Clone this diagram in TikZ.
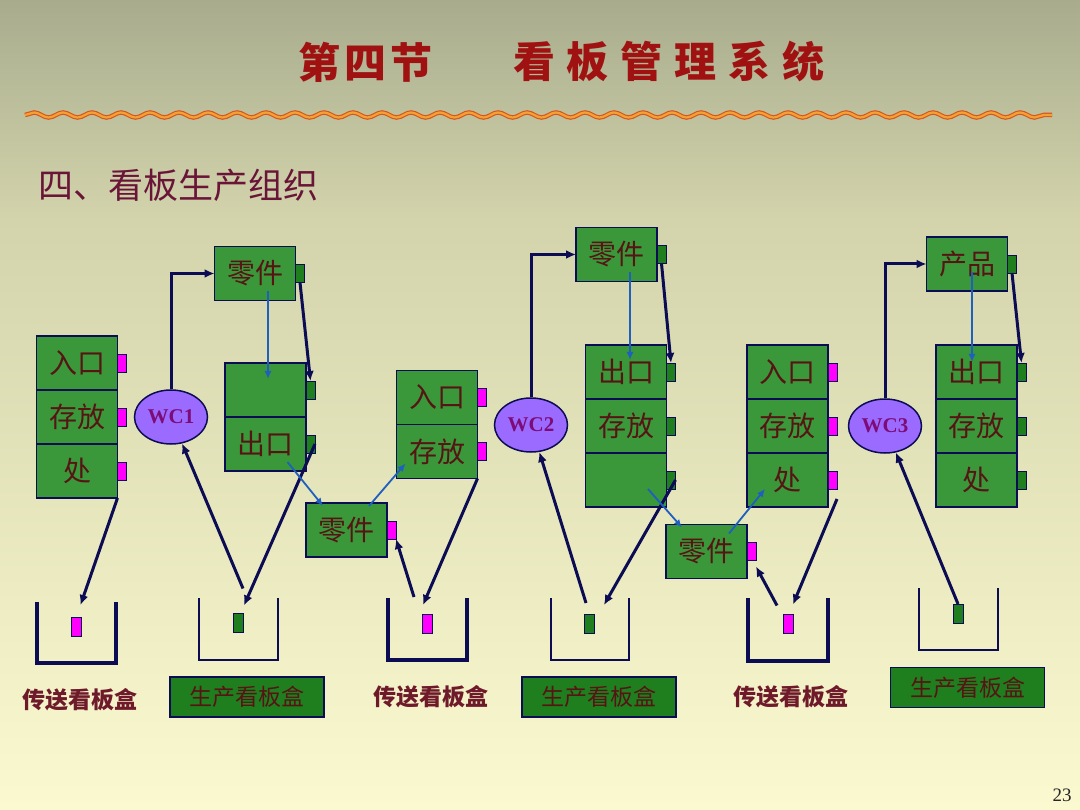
\documentclass[tikz,border=0pt]{standalone}
\usepackage{fontspec}
\setmainfont{Noto Sans CJK SC}
\newfontfamily\wcfont{Liberation Serif}
\usetikzlibrary{arrows.meta,shapes.geometric,positioning,calc,decorations.pathmorphing}

\definecolor{bgtop}{HTML}{A8AC8D}
\definecolor{bgupper}{HTML}{D3D4AC}
\definecolor{bgmid}{HTML}{EAE9C0}
\definecolor{bgbot}{HTML}{FBF9CF}
\definecolor{kbnavy}{HTML}{0C0C55}
\definecolor{cellgreen}{HTML}{3A983A}
\definecolor{darkgreen}{HTML}{1F7F1F}
\definecolor{pinktab}{HTML}{FF00FF}
\definecolor{wcpurple}{HTML}{9B6BFF}
\definecolor{wctext}{HTML}{7E0C78}
\definecolor{textbrown}{HTML}{561414}
\definecolor{labelred}{HTML}{6E1A2A}
\definecolor{subred}{HTML}{6A1538}
\definecolor{titlered}{HTML}{A01212}
\definecolor{infoblue}{HTML}{1E5FC0}
\definecolor{waveorange}{HTML}{F5A035}
\definecolor{wavered}{HTML}{D4561E}

\begin{document}
\begin{tikzpicture}[
        x=1pt, y=-1pt,
        cell/.style={rectangle, draw=kbnavy, line width=1.3pt, fill=cellgreen, minimum width=81pt,
            minimum height=54pt, inner sep=0pt, outer sep=0pt, text=textbrown, font=\fontsize{28}{30}\selectfont},
        ptab/.style={rectangle, draw=kbnavy, line width=0.8pt, fill=pinktab, minimum width=9pt,
            minimum height=18pt, inner sep=0pt, outer sep=0pt},
        gtab/.style={ptab, fill=darkgreen},
        wc/.style={ellipse, draw=kbnavy, line width=1.5pt, fill=wcpurple, minimum width=73pt, minimum height=54pt,
            inner sep=0pt, text=wctext, font=\wcfont\bfseries\fontsize{21}{23}\selectfont},
        kb/.style={draw=kbnavy, line width=3pt, -{Latex[length=10pt,width=9pt]}},
        info/.style={draw=infoblue, line width=1.8pt, -{Latex[length=8pt,width=7pt]}},
        thickbin/.style={draw=kbnavy, line width=3.5pt},
        thinbin/.style={draw=kbnavy, line width=1.3pt},
        carrier/.style={font=\bfseries\fontsize{23}{25}\selectfont, text=labelred},
        prodbox/.style={rectangle, draw=kbnavy, line width=1.5pt, fill=darkgreen, minimum width=154pt,
            minimum height=40pt, inner sep=0pt, text=textbrown, font=\fontsize{23}{25}\selectfont}
    ]

    % Background and heading
    \shade[top color=bgtop, bottom color=bgupper] (0,0) rectangle (1080,220);
    \shade[top color=bgupper, middle color=bgmid, bottom color=bgbot] (0,219.5) rectangle (1080,810);
    \useasboundingbox (0,0) rectangle (1080,810);
    \node[anchor=west, inner sep=0pt, text=titlered,
        font={\bfseries\fontsize{42}{46}\selectfont\addfontfeature{LetterSpace=10}}] (title1) at (298,62) {第四节};
    \node[anchor=west, inner sep=0pt, text=titlered,
        font={\bfseries\fontsize{42}{46}\selectfont\addfontfeature{LetterSpace=28}}] (title2) at (513,62) {看板管理系统};
    \draw[wavered, line width=4.5pt, decorate, decoration={snake, segment length=29pt, amplitude=2.5pt}] (25,115) -- (1052,115);
    \draw[waveorange, line width=2.2pt, decorate, decoration={snake, segment length=29pt, amplitude=2.5pt}] (25,115) -- (1052,115);
    \node[anchor=west, inner sep=0pt, text=subred, font=\fontsize{35}{38}\selectfont] (sub) at (38,185) {四、看板生产组织};
    \node[font=\wcfont\fontsize{19}{21}\selectfont, text=black!85] (pageno) at (1062,795) {23};

    % WC1 and its stores
    \node[cell] (s1a) at (77,363) {入口};
    \node[cell, below=0pt of s1a] (s1b) {存放};
    \node[cell, below=0pt of s1b] (s1c) {处};
    \node[ptab, right=0pt of s1a] (s1t1) {};
    \node[ptab, right=0pt of s1b] (s1t2) {};
    \node[ptab, right=0pt of s1c] (s1t3) {};
    \node[wc] (wc1) at (171,417) {WC1};
    \node[cell] (part1) at (255,273.5) {零件};
    \node[gtab, right=0pt of part1] (p1t) {};
    \node[cell] (m1a) at (265.5,390) {};
    \node[cell, below=0pt of m1a] (m1b) {出口};
    \node[gtab, right=0pt of m1a] (m1t1) {};
    \node[gtab, right=0pt of m1b] (m1t2) {};
    \node[cell] (pm1) at (346.5,530) {零件};
    \node[ptab, right=0pt of pm1] (pm1t) {};

    % WC2 and its stores
    \node[cell] (s2a) at (437,397.5) {入口};
    \node[cell, below=0pt of s2a] (s2b) {存放};
    \node[ptab, right=0pt of s2a] (s2t1) {};
    \node[ptab, right=0pt of s2b] (s2t2) {};
    \node[wc] (wc2) at (531,425) {WC2};
    \node[cell] (part2) at (616.5,254.5) {零件};
    \node[gtab, right=0pt of part2] (p2t) {};
    \node[cell] (s3a) at (626,372) {出口};
    \node[cell, below=0pt of s3a] (s3b) {存放};
    \node[cell, below=0pt of s3b] (s3c) {};
    \node[gtab, right=0pt of s3a] (s3t1) {};
    \node[gtab, right=0pt of s3b] (s3t2) {};
    \node[gtab, right=0pt of s3c] (s3t3) {};
    \node[cell] (pm2) at (706.5,551.5) {零件};
    \node[ptab, right=0pt of pm2] (pm2t) {};

    % WC3 and its stores
    \node[cell] (s4a) at (787.5,372) {入口};
    \node[cell, below=0pt of s4a] (s4b) {存放};
    \node[cell, below=0pt of s4b] (s4c) {处};
    \node[ptab, right=0pt of s4a] (s4t1) {};
    \node[ptab, right=0pt of s4b] (s4t2) {};
    \node[ptab, right=0pt of s4c] (s4t3) {};
    \node[wc] (wc3) at (885,426) {WC3};
    \node[cell] (prod) at (967,264) {产品};
    \node[gtab, right=0pt of prod] (p3t) {};
    \node[cell] (s5a) at (976.5,372) {出口};
    \node[cell, below=0pt of s5a] (s5b) {存放};
    \node[cell, below=0pt of s5b] (s5c) {处};
    \node[gtab, right=0pt of s5a] (s5t1) {};
    \node[gtab, right=0pt of s5b] (s5t2) {};
    \node[gtab, right=0pt of s5c] (s5t3) {};

    % Kanban boxes
    \draw[thickbin] (37,602) -- (37,663) -- (116,663) -- (116,602);
    \draw[thinbin] (199,598) -- (199,660) -- (278,660) -- (278,598);
    \draw[thickbin] (388,598) -- (388,660) -- (467,660) -- (467,598);
    \draw[thinbin] (551,598) -- (551,660) -- (629,660) -- (629,598);
    \draw[thickbin] (748,598) -- (748,661) -- (828,661) -- (828,598);
    \draw[thinbin] (919,588) -- (919,650) -- (998,650) -- (998,588);
    \node[ptab, minimum width=10pt, minimum height=19pt] (c1) at (76.5,626.5) {};
    \node[gtab, minimum width=10pt, minimum height=19pt] (c2) at (238.5,623) {};
    \node[ptab, minimum width=10pt, minimum height=19pt] (c3) at (427.5,623.5) {};
    \node[gtab, minimum width=10pt, minimum height=19pt] (c4) at (589.5,623.5) {};
    \node[ptab, minimum width=10pt, minimum height=19pt] (c5) at (788,624) {};
    \node[gtab, minimum width=10pt, minimum height=19pt] (c6) at (958,613.5) {};
    \node[carrier] (l1) at (80,700) {传送看板盒};
    \node[prodbox] (l2) at (247,697) {生产看板盒};
    \node[carrier] (l3) at (431,697) {传送看板盒};
    \node[prodbox] (l4) at (599,697) {生产看板盒};
    \node[carrier] (l5) at (791,697) {传送看板盒};
    \node[prodbox] (l6) at (967.5,687.5) {生产看板盒};

    % Kanban flow
    \draw[kb] (s1c.south east) -- ($(c1.north)+(4,-12)$);
    \draw[kb] (wc1.north) |- (part1.west);
    \draw[kb] (p1t.south) -- (m1t1.north);
    \draw[kb] (m1t2.east) -- ($(c2.north)+(5.5,-8)$);
    \draw[kb] ($(c2.north)+(4.5,-25)$) -- (wc1);
    \draw[kb] (s2b.south east) -- ($(c3.north)+(-4.5,-9)$);
    \draw[kb] ($(c3.north)+(-13.5,-17)$) -- (pm1t.south east);
    \draw[kb] (wc2.north) |- (part2.west);
    \draw[kb] (p2t.south) -- (s3t1.north);
    \draw[kb] (s3t3.east) -- ($(c4.north)+(14.5,-9)$);
    \draw[kb] ($(c4.north)+(-3.5,-11)$) -- (wc2);
    \draw[kb] ($(s4t3.south east)+(0,10)$) -- ($(c5.north)+(5,-10)$);
    \draw[kb] ($(c5.north)+(-11,-9)$) -- ($(pm2t.south east)+(0,6)$);
    \draw[kb] (wc3.north) |- (prod.west);
    \draw[kb] (p3t.south) -- (s5t1.north);
    \draw[kb] (c6.north) -- (wc3);

    % Parts flow
    \draw[info] ($(m1a.center |- part1.south)+(2.5,-9)$) -- ($(m1a.center)+(2.5,-11)$);
    \draw[info] ($(m1b.south)+(22,-9)$) -- ($(pm1.north west)+(17,3)$);
    \draw[info] ($(pm1.north east)+(-18,3)$) -- ($(s2b.south west)+(9,-15)$);
    \draw[info] ($(s3a.center |- part2.south)+(4,-9)$) -- ($(s3a.center)+(4,-12)$);
    \draw[info] ($(s3c.center)+(22,9)$) -- ($(pm2.north west)+(16,3)$);
    \draw[info] ($(pm2.north east)+(-18,9)$) -- ($(s4c.south west)+(18,-18)$);
    \draw[info] ($(s5a.center |- prod.south)+(-4.5,-19)$) -- ($(s5a.center)+(-4.5,-10)$);
\end{tikzpicture}
\end{document}
